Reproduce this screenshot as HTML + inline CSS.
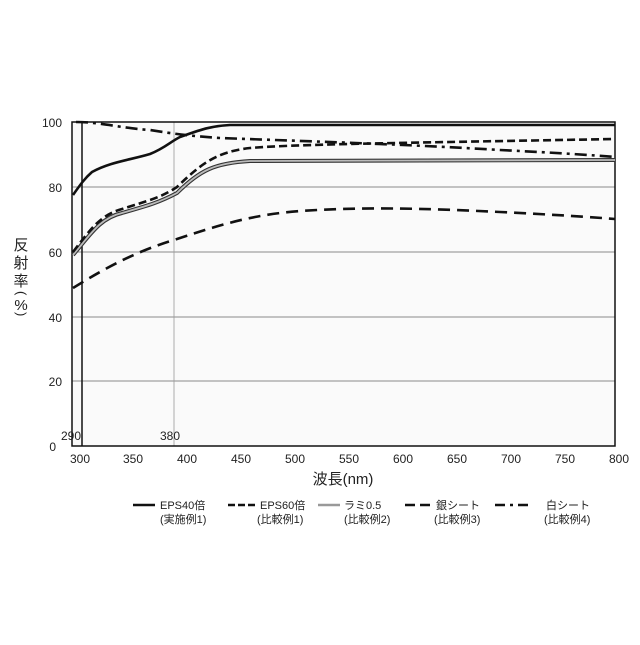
<!DOCTYPE html>
<html><head><meta charset="utf-8"><style>
body{margin:0;background:#fff;}
svg text{font-family:"Liberation Sans","Noto Sans CJK JP",sans-serif;fill:#222;}
</style></head><body>
<svg width="640" height="640" viewBox="0 0 640 640" xmlns="http://www.w3.org/2000/svg">
<rect x="72" y="122" width="543" height="324" fill="#fafafa"/>
<g stroke="#666" stroke-width="0.8">
<line x1="72" y1="187" x2="615" y2="187"/>
<line x1="72" y1="252" x2="615" y2="252"/>
<line x1="72" y1="317" x2="615" y2="317"/>
<line x1="72" y1="381" x2="615" y2="381"/>
<line x1="174" y1="122" x2="174" y2="446" stroke="#999"/>
</g>
<line x1="82" y1="122" x2="82" y2="446" stroke="#111" stroke-width="1.5"/>
<rect x="72" y="122" width="543" height="324" fill="none" stroke="#111" stroke-width="1.5"/>
<g font-size="12" text-anchor="end">
<text x="62" y="127">100</text><text x="62" y="192">80</text><text x="62" y="257">60</text>
<text x="62" y="322">40</text><text x="62" y="386">20</text><text x="56" y="451">0</text>
</g>
<text x="61" y="440" font-size="12">290</text>
<text x="160" y="440" font-size="12">380</text>
<g font-size="12" text-anchor="middle">
<text x="80" y="463">300</text><text x="133" y="463">350</text><text x="187" y="463">400</text>
<text x="241" y="463">450</text><text x="295" y="463">500</text><text x="349" y="463">550</text>
<text x="403" y="463">600</text><text x="457" y="463">650</text><text x="511" y="463">700</text>
<text x="565" y="463">750</text><text x="619" y="463">800</text>
</g>
<text x="343" y="484" font-size="15" text-anchor="middle">波長(nm)</text>
<g font-size="15" text-anchor="middle">
<text x="21" y="250">反</text><text x="21" y="268">射</text><text x="21" y="286">率</text>
<text x="21" y="310">%</text>
</g>
<text font-size="13" transform="translate(17,291) rotate(90)">(</text>
<text font-size="13" transform="translate(17,312) rotate(90)">)</text>
<g fill="none" stroke-linejoin="round">
<path d="M73,255 C90,235 100,218 122,213 C150,205 160,202 177,193 C200,170 215,163 250,161 L615,160" stroke="#333" stroke-width="4"/>
<path d="M73,255 C90,235 100,218 122,213 C150,205 160,202 177,193 C200,170 215,163 250,161 L615,160" stroke="#bbb" stroke-width="1.8"/>
<path d="M73,252 C90,230 100,215 122,209 C150,200 160,198 177,187 C200,165 215,152 250,148 C300,144 400,143 615,139" stroke="#111" stroke-width="2.6" stroke-dasharray="8,4"/>
<path d="M73,288 C110,265 140,250 177,239 C220,225 250,215 300,211 C360,207 420,208 500,212 C560,215 590,217 615,219" stroke="#111" stroke-width="2.6" stroke-dasharray="12,7"/>
<path d="M73,195 C80,185 85,178 92,172 C110,162 130,160 150,154 C165,148 170,142 180,137 C200,130 210,126 230,125 L615,125" stroke="#111" stroke-width="2.6"/>
<path d="M76,122 C100,122 120,128 150,130 C175,134 190,136 220,138 C300,141 400,144 500,150 C560,153 590,155 615,157" stroke="#111" stroke-width="2.6" stroke-dasharray="12,5,3,5"/>
</g>
<g stroke="#111" stroke-width="2.6">
<line x1="133" y1="505" x2="155" y2="505"/>
<line x1="228" y1="505" x2="256" y2="505" stroke-dasharray="7,3"/>
<line x1="318" y1="505" x2="340" y2="505" stroke="#999"/>
<line x1="405" y1="505" x2="432" y2="505" stroke-dasharray="10,5"/>
<line x1="495" y1="505" x2="530" y2="505" stroke-dasharray="10,5,3,5"/>
</g>
<g font-size="11">
<text x="160" y="509">EPS40倍</text><text x="160" y="523">(実施例1)</text>
<text x="260" y="509">EPS60倍</text><text x="257" y="523">(比較例1)</text>
<text x="344" y="509">ラミ0.5</text><text x="344" y="523">(比較例2)</text>
<text x="436" y="509">銀シート</text><text x="434" y="523">(比較例3)</text>
<text x="546" y="509">白シート</text><text x="544" y="523">(比較例4)</text>
</g>
</svg>
</body></html>
